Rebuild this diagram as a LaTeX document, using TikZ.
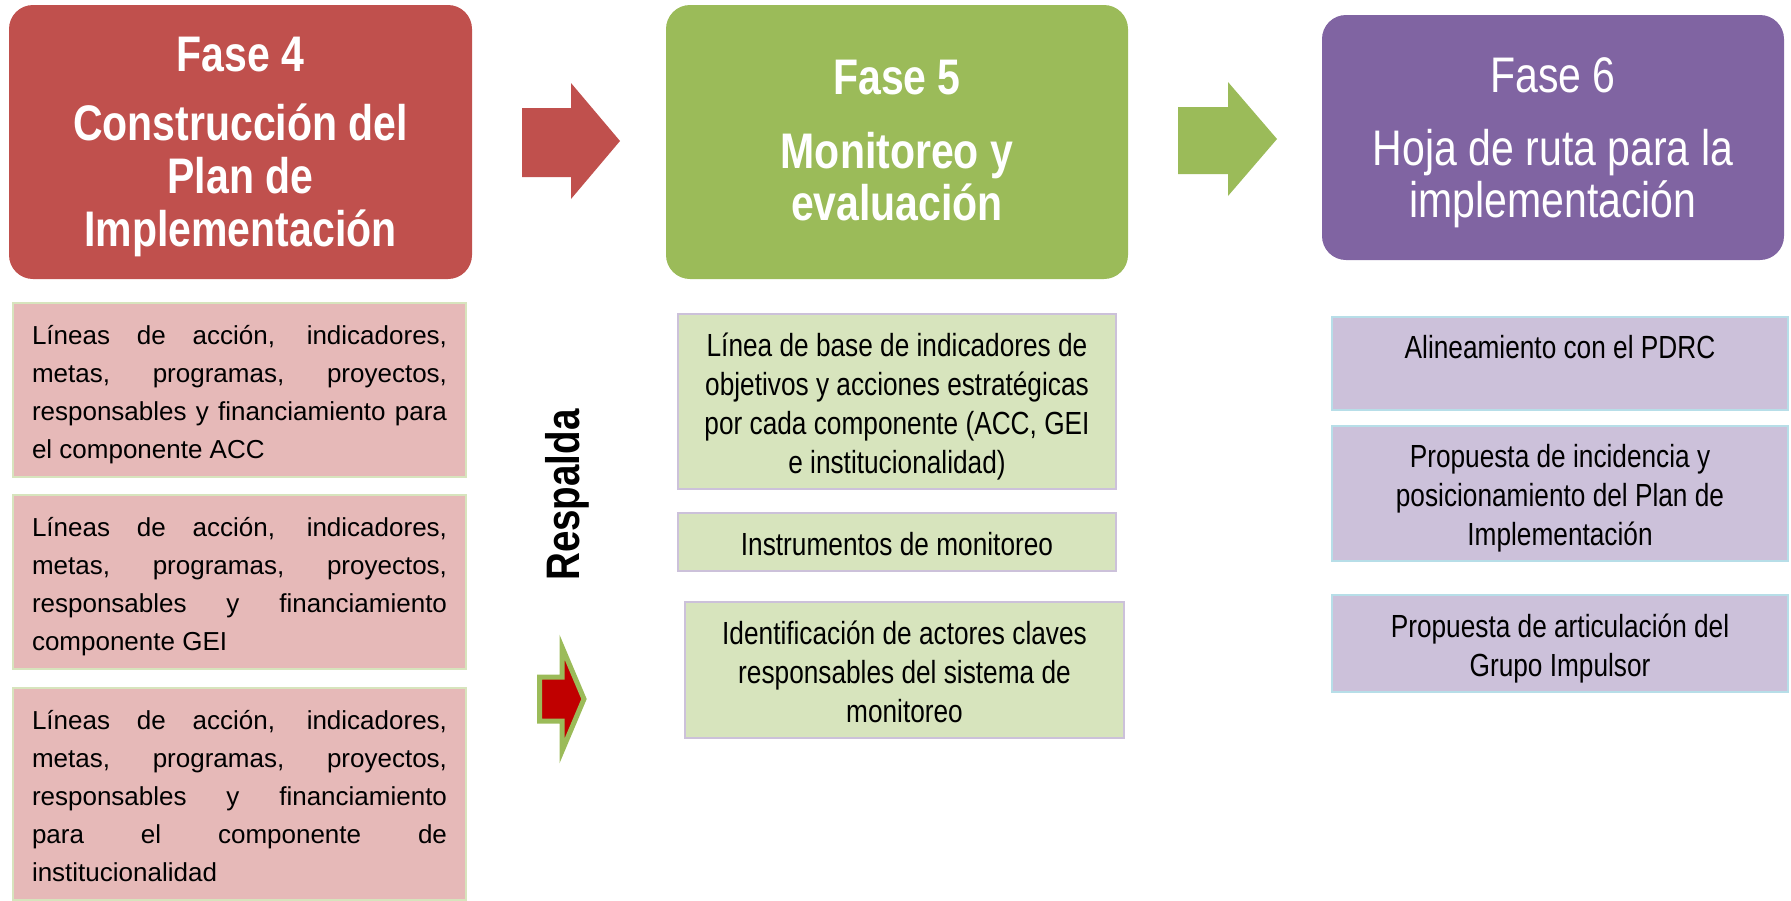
\documentclass[tikz,border=0pt]{standalone}
\usepackage{fontspec}
\setmainfont{Liberation Sans}
\newfontfamily\narrowfont{Liberation Sans}[FakeStretch=0.82]
\usepackage{tikz}
\usetikzlibrary{positioning}

\definecolor{fasered}{HTML}{C0504D}
\definecolor{fasegreen}{HTML}{9BBB59}
\definecolor{fasepurple}{HTML}{8064A2}
\definecolor{itempink}{HTML}{E6B9B8}
\definecolor{itemgreen}{HTML}{D7E4BD}
\definecolor{itemlilac}{HTML}{CCC1DA}
\definecolor{edgeblue}{HTML}{B7DEE8}
\definecolor{darkred}{HTML}{C00000}

\newcommand{\jline}[1]{\makebox[415pt][s]{#1}}
% line strut: height, depth
\newcommand{\lstrut}[2]{\rule[-#2]{0pt}{\dimexpr#1+#2\relax}}

\tikzset{
  fasebox/.style={rounded corners=24pt, inner sep=0pt, text=white, align=flush center,
    minimum width=463pt, minimum height=274pt, text width=440pt,
    execute at begin node=\lstrut{45pt}{0pt}, execute at end node=\lstrut{0pt}{10.6pt}},
  leftitem/.style={fill=itempink, draw=itemgreen, line width=1.5pt, inner sep=0pt,
    minimum width=453pt, text width=415pt, align=flush left,
    font=\fontsize{26}{38}\selectfont,
    execute at begin node=\lstrut{28pt}{0pt}, execute at end node=\lstrut{0pt}{5.5pt}},
  miditem/.style={fill=itemgreen, draw=itemlilac, line width=1.5pt, inner sep=0pt,
    minimum width=438pt, text width=420pt, align=flush center,
    font=\narrowfont\fontsize{32}{39}\selectfont,
    execute at begin node=\lstrut{33.5pt}{0pt}, execute at end node=\lstrut{0pt}{6.8pt}},
  rightitem/.style={fill=itemlilac, draw=edgeblue, line width=1.5pt, inner sep=0pt,
    minimum width=456pt, text width=440pt, align=flush center,
    font=\narrowfont\fontsize{32}{39}\selectfont,
    execute at begin node=\lstrut{33.5pt}{0pt}, execute at end node=\lstrut{0pt}{6.8pt}}
}

\begin{document}
\begin{tikzpicture}[x=1pt,y=-1pt]
        \useasboundingbox (0,0) rectangle (1791,900);

        % fases
        \node[fasebox, fill=fasered, font=\narrowfont\bfseries\fontsize{50}{53}\selectfont] (fase4) at (240.5,142)
            {Fase 4\\[16pt]Construcción del\\Plan de\\Implementación};
        \node[fasebox, fill=fasegreen, minimum width=462pt, font=\narrowfont\bfseries\fontsize{50}{52}\selectfont,
            execute at end node=\lstrut{0pt}{15pt}] (fase5) at (897,142)
            {Fase 5\\[22pt]Monitoreo y\\evaluación};
        \node[fasebox, fill=fasepurple, minimum width=462pt, minimum height=245pt, font=\narrowfont\fontsize{50}{52}\selectfont] (fase6) at (1553,137.5)
            {Fase 6\\[21pt]Hoja de ruta para la\\implementación};

        \fill[fasered] (522,108) -- (571,108) -- (571,83) -- (620,141) -- (571,199) -- (571,177) -- (522,177) -- cycle;
        \fill[fasegreen] (1178,107) -- (1228,107) -- (1228,82) -- (1277,139) -- (1228,196) -- (1228,174) -- (1178,174) -- cycle;

        % fase 4
        \node[leftitem, minimum height=174pt] (acc) at (239.5,390)
            {\jline{Líneas de acción, indicadores,}\\\jline{metas, programas, proyectos,}\\\jline{responsables y financiamiento para}\\el componente ACC};
        \node[leftitem, minimum height=174pt] (gei) at (239.5,582)
            {\jline{Líneas de acción, indicadores,}\\\jline{metas, programas, proyectos,}\\\jline{responsables y financiamiento}\\componente GEI};
        \node[leftitem, minimum height=212pt] (inst) at (239.5,794)
            {\jline{Líneas de acción, indicadores,}\\\jline{metas, programas, proyectos,}\\\jline{responsables y financiamiento}\\\jline{para el componente de}\\institucionalidad};

        \node[rotate=90, font=\narrowfont\bfseries\fontsize{47}{47}\selectfont] (respalda) at (567,495) {Respalda};
        \draw[fill=darkred, draw=fasegreen, line width=5pt] (539.5,677) -- (562,677) -- (562,647) -- (584,699) -- (562,751) -- (562,721) -- (539.5,721) -- cycle;

        % fase 5
        \node[miditem, minimum height=175pt] (base) at (897,401.5)
            {Línea de base de indicadores de\\objetivos y acciones estratégicas\\por cada componente (ACC, GEI\\e institucionalidad)};
        \node[miditem, minimum height=58pt] (instr) at (897,542)
            {Instrumentos de monitoreo};
        \node[miditem, minimum width=439pt, minimum height=136pt] (actores) at (904.5,670)
            {Identificación de actores claves\\responsables del sistema de\\monitoreo};

        % fase 6
        \node[rightitem, anchor=north, text height=42pt, text depth=51pt] (pdrc) at (1560,316)
            {Alineamiento con el PDRC};
        \node[rightitem, minimum height=135pt] (incidencia) at (1560,493.5)
            {Propuesta de incidencia y\\posicionamiento del Plan de\\Implementación};
        \node[rightitem, minimum height=97pt] (grupo) at (1560,643.5)
            {Propuesta de articulación del\\Grupo Impulsor};
\end{tikzpicture}
\end{document}
